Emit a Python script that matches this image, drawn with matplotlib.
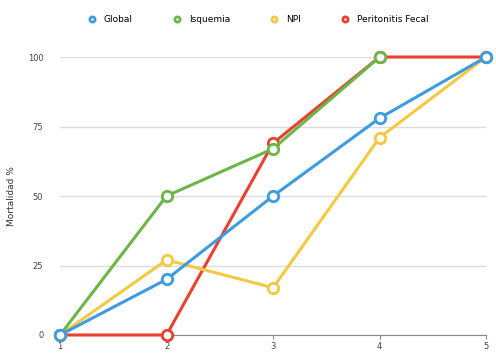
import numpy as np
import matplotlib.pyplot as plt

plt.rcParams.update({
    "font.family": "DejaVu Sans",
    "font.size": 6,
})

# Mortality per stage for each group
stages = [1, 2, 3, 4, 5]
global_vals = [0, 20, 50, 78, 100]
isquemia = [0, 50, 67, 100, np.nan]
npi = [0, 27, 17, 71, 100]
peritonitis = [0, 0, 69, 100, 100]

series = [
    ("Global", global_vals, "#3d9be0"),
    ("Isquemia", isquemia, "#6cb548"),
    ("NPI", npi, "#f5c842"),
    ("Peritonitis Fecal", peritonitis, "#e8412f"),
]

fig = plt.figure(figsize=(4.96, 3.53), dpi=100)
ax = fig.add_axes([0.121, 0.051, 0.859, 0.7875])

# draw last series first so Global ends up on top
for i, (name, vals, color) in reversed(list(enumerate(series))):
    ax.plot(stages, vals, color=color, lw=2.2, marker="o", ms=7.5,
            mfc="white", mec=color, mew=2.0, label=name,
            zorder=3 + (len(series) - i), clip_on=False)

ax.set_ylim(0, 100)
ax.set_xlim(1, 5)
ax.set_yticks([0, 25, 50, 75, 100])
ax.set_xticks(stages)
ax.grid(axis="y", color="#dcdcdc", lw=1)
ax.set_axisbelow(True)
for side in ["top", "right", "left"]:
    ax.spines[side].set_visible(False)
ax.spines["bottom"].set_color("#888888")
ax.tick_params(axis="y", length=0, pad=12, colors="#444444")
ax.tick_params(axis="x", length=3, color="#888888", colors="#444444", pad=2)
ax.set_ylabel("Mortalidad %", fontsize=6.5, color="#333333", labelpad=8)

handles, labels = ax.get_legend_handles_labels()
order = [labels.index(s[0]) for s in series]
leg = fig.legend([handles[k] for k in order], [labels[k] for k in order],
                 loc="center", bbox_to_anchor=(0.52, 0.945), ncol=4,
                 frameon=False, fontsize=6.5, markerscale=0.5,
                 handlelength=1.0, columnspacing=4.4, handletextpad=0.8)
for line in leg.get_lines():
    line.set_linestyle("none")

fig.savefig("out.png", dpi=100)
